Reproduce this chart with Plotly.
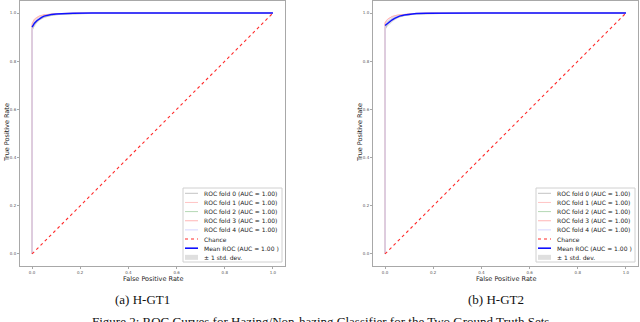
import plotly.graph_objects as go

W, H = 640, 322

# mean ROC + std band on a common FPR grid
fpr_grid = [0.0, 0.01, 0.02, 0.03, 0.04, 0.05, 0.06, 0.08, 0.10, 0.13, 0.17, 0.25, 0.4, 1.0]
mean_tpr_a = [0.942, 0.958, 0.968, 0.976, 0.982, 0.987, 0.990, 0.994, 0.996, 0.998, 0.999, 1.0, 1.0, 1.0]
std_tpr_a = [0.014, 0.012, 0.010, 0.008, 0.007, 0.006, 0.005, 0.004, 0.003, 0.002, 0.0015, 0.001, 0.0, 0.0]
mean_tpr_b = [0.948, 0.957, 0.965, 0.972, 0.978, 0.983, 0.987, 0.992, 0.995, 0.998, 0.999, 1.0, 1.0, 1.0]
std_tpr_b = [0.014, 0.012, 0.010, 0.009, 0.008, 0.007, 0.006, 0.004, 0.003, 0.002, 0.0015, 0.001, 0.0, 0.0]

# per-fold ROC curves (step shaped)
fold_fpr = [0.0, 0.0, 0.005, 0.01, 0.02, 0.03, 0.05, 0.08, 0.12, 0.2, 0.3, 1.0]
folds_a = [
    [0.0, 0.925, 0.940, 0.952, 0.962, 0.972, 0.982, 0.990, 0.995, 0.998, 1.0, 1.0],
    [0.0, 0.950, 0.962, 0.972, 0.980, 0.986, 0.992, 0.996, 0.998, 1.0, 1.0, 1.0],
    [0.0, 0.935, 0.948, 0.960, 0.970, 0.978, 0.986, 0.992, 0.996, 0.999, 1.0, 1.0],
    [0.0, 0.955, 0.966, 0.975, 0.982, 0.988, 0.993, 0.996, 0.998, 1.0, 1.0, 1.0],
    [0.0, 0.940, 0.952, 0.963, 0.972, 0.980, 0.987, 0.993, 0.997, 0.999, 1.0, 1.0],
]
folds_b = [
    [0.0, 0.930, 0.942, 0.954, 0.964, 0.972, 0.982, 0.989, 0.995, 0.998, 1.0, 1.0],
    [0.0, 0.962, 0.968, 0.974, 0.980, 0.985, 0.991, 0.995, 0.998, 1.0, 1.0, 1.0],
    [0.0, 0.940, 0.950, 0.960, 0.970, 0.978, 0.986, 0.991, 0.996, 0.999, 1.0, 1.0],
    [0.0, 0.958, 0.966, 0.973, 0.980, 0.986, 0.991, 0.995, 0.998, 1.0, 1.0, 1.0],
    [0.0, 0.945, 0.955, 0.964, 0.972, 0.979, 0.987, 0.992, 0.996, 0.999, 1.0, 1.0],
]
fold_colors = ["#c4c4c4", "#ffc4c4", "#b4d8b4", "#ffb4b4", "#d4d4ff"]

chance_x = [0.0, 1.0]
chance_y = [0.0, 1.0]

legend_labels = ["ROC fold 0 (AUC = 1.00)", "ROC fold 1 (AUC = 1.00)", "ROC fold 2 (AUC = 1.00)",
                 "ROC fold 3 (AUC = 1.00)", "ROC fold 4 (AUC = 1.00)", "Chance",
                 "Mean ROC (AUC = 1.00 )", "\u00b1 1 std. dev."]
tick_vals = [0.0, 0.2, 0.4, 0.6, 0.8, 1.0]
captions = ["(a) H-GT1", "(b) H-GT2"]
fig_caption = "Figure 2: ROC Curves for Hazing/Non-hazing Classifier for the Two Ground Truth Sets"

CHANCE_RED = "#ff2a2a"


def px(x):
    return x / W


def py(y):
    return 1 - y / H


fig = go.Figure()

panels = [
    dict(xa="x", ya="y", mean=mean_tpr_a, std=std_tpr_a, folds=folds_a, left=20, right=285),
    dict(xa="x2", ya="y2", mean=mean_tpr_b, std=std_tpr_b, folds=folds_b, left=373, right=638),
]

for p in panels:
    upper = [min(m + s, 1.0) for m, s in zip(p["mean"], p["std"])]
    lower = [m - s for m, s in zip(p["mean"], p["std"])]
    fig.add_trace(go.Scatter(x=fpr_grid, y=upper, mode="lines", xaxis=p["xa"], yaxis=p["ya"],
                             line=dict(width=0), showlegend=False, hoverinfo="skip"))
    fig.add_trace(go.Scatter(x=fpr_grid, y=lower, mode="lines", xaxis=p["xa"], yaxis=p["ya"],
                             line=dict(width=0), fill="tonexty", fillcolor="rgba(150,150,150,0.3)",
                             showlegend=False, hoverinfo="skip"))
    for i, tpr in enumerate(p["folds"]):
        fig.add_trace(go.Scatter(x=fold_fpr, y=tpr, mode="lines", xaxis=p["xa"], yaxis=p["ya"],
                                 line=dict(color=fold_colors[i], width=1), showlegend=False))
    fig.add_trace(go.Scatter(x=fpr_grid, y=p["mean"], mode="lines", xaxis=p["xa"], yaxis=p["ya"],
                             line=dict(color="#1010ff", width=1.4), showlegend=False))
    fig.add_trace(go.Scatter(x=chance_x, y=chance_y, mode="lines", xaxis=p["xa"], yaxis=p["ya"],
                             line=dict(color=CHANCE_RED, width=1.1, dash="dot"), showlegend=False))

axis_common = dict(range=[-0.05, 1.05], showgrid=False, zeroline=False, showline=True, mirror=True,
                   linecolor="#a8a8a8", linewidth=1, ticks="outside", ticklen=2, tickcolor="#a8a8a8",
                   tickvals=tick_vals, tickformat=".1f", automargin=False,
                   tickfont=dict(size=4, color="#555", family="DejaVu Sans"))

ydom = [py(266), py(1)]
fig.update_layout(
    width=W, height=H, margin=dict(l=0, r=0, t=0, b=0),
    paper_bgcolor="white", plot_bgcolor="white", showlegend=False, hovermode=False,
    xaxis=dict(axis_common, domain=[px(20), px(285)], anchor="y"),
    yaxis=dict(axis_common, domain=ydom, anchor="x"),
    xaxis2=dict(axis_common, domain=[px(373), px(638)], anchor="y2"),
    yaxis2=dict(axis_common, domain=ydom, anchor="x2"),
)

title_font = dict(size=6.5, color="#222", family="DejaVu Sans")
for p, cap in zip(panels, captions):
    cx = (p["left"] + p["right"]) / 2
    fig.add_annotation(x=px(cx), y=py(279), xref="paper", yref="paper", text="False Positive Rate",
                       showarrow=False, font=title_font, xanchor="center", yanchor="middle")
    fig.add_annotation(x=px(p["left"] - 13), y=py(133), xref="paper", yref="paper",
                       text="True Positive Rate", textangle=-90, showarrow=False, font=title_font,
                       xanchor="center", yanchor="middle")
    fig.add_annotation(x=px(cx - 10), y=py(299), xref="paper", yref="paper", text=cap,
                       showarrow=False, font=dict(size=13, color="#111", family="Liberation Serif"),
                       xanchor="center", yanchor="middle")

    # legend box drawn by hand (plotly legend rows are too tall at this scale)
    bx0, bx1, by0, by1 = p["right"] - 102, p["right"] - 3, 188, 262
    fig.add_shape(type="rect", xref="paper", yref="paper", x0=px(bx0), x1=px(bx1), y0=py(by1), y1=py(by0),
                  line=dict(color="#d0d0d0", width=1), fillcolor="rgba(255,255,255,0.85)")
    styles = [dict(color=c, width=1) for c in fold_colors] + [
        dict(color=CHANCE_RED, width=1.1, dash="dot"), dict(color="#1010ff", width=1.6), None]
    for k, lab in enumerate(legend_labels):
        ry = 193.3 + k * 9.15
        lx0, lx1 = bx0 + 2, bx0 + 15
        if styles[k] is None:
            fig.add_shape(type="rect", xref="paper", yref="paper", x0=px(lx0), x1=px(lx1),
                          y0=py(ry + 2.5), y1=py(ry - 2.5), line=dict(width=0),
                          fillcolor="rgba(150,150,150,0.3)")
        else:
            fig.add_shape(type="line", xref="paper", yref="paper", x0=px(lx0), x1=px(lx1),
                          y0=py(ry), y1=py(ry), line=styles[k])
        fig.add_annotation(x=px(bx0 + 19), y=py(ry), xref="paper", yref="paper", text=lab,
                           showarrow=False, xanchor="left", yanchor="middle",
                           font=dict(size=6, color="#222", family="DejaVu Sans"))

fig.add_annotation(x=0.5, y=py(321), xref="paper", yref="paper", text=fig_caption, showarrow=False,
                   font=dict(size=13, color="#111", family="Liberation Serif"),
                   xanchor="center", yanchor="middle")

# the page body has a default 8px margin; drop it so the figure sits at the window corner
fig.write_html("out.html", config={"displayModeBar": False},
               post_script="document.body.style.margin='0';document.body.style.overflow='hidden';")
